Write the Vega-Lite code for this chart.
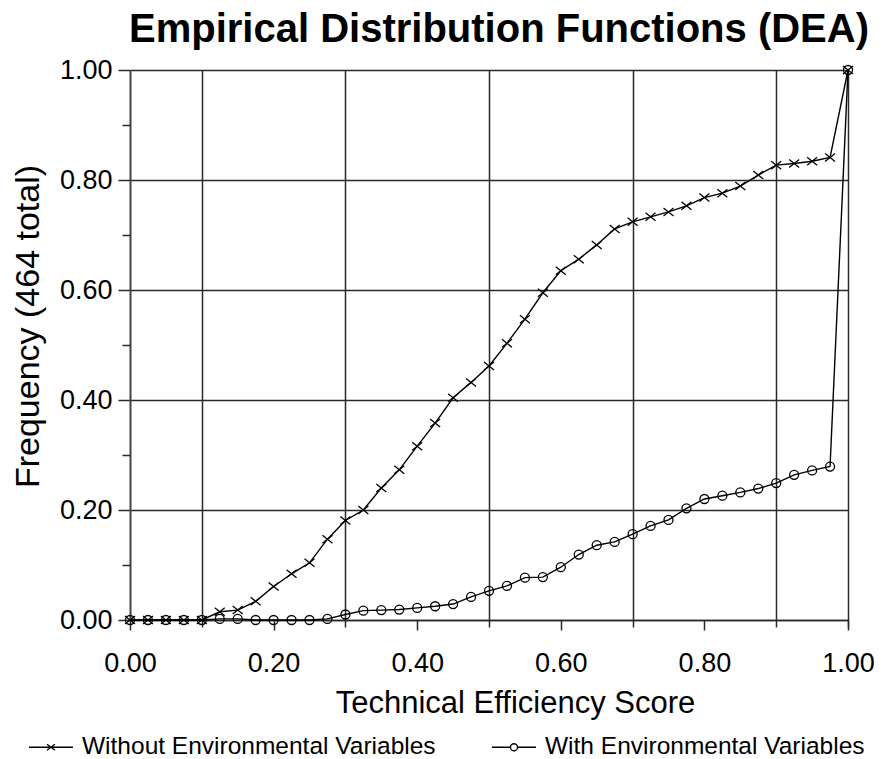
{
  "$schema": "https://vega.github.io/schema/vega-lite/v6.json",
  "width": 718,
  "height": 550,
  "autosize": "none",
  "padding": {"left": 130, "top": 70, "right": 36, "bottom": 139},
  "background": "white",
  "config": {
    "view": {"stroke": null},
    "font": "Liberation Sans",
    "axis": {"labelFont": "Liberation Sans", "titleFont": "Liberation Sans", "labelColor": "black", "titleColor": "black", "titleFontWeight": "normal", "labelFlush": false}
  },
  "title": {
    "text": "Empirical Distribution Functions (DEA)",
    "font": "Liberation Sans",
    "fontSize": 40,
    "fontWeight": "bold",
    "color": "black",
    "anchor": "middle",
    "frame": "group",
    "dx": 10,
    "offset": 6
  },
  "data": {
    "values": [
      {"score": 0, "freq": 0, "series": "Without Environmental Variables"},
      {"score": 0.025, "freq": 0, "series": "Without Environmental Variables"},
      {"score": 0.05, "freq": 0, "series": "Without Environmental Variables"},
      {"score": 0.075, "freq": 0, "series": "Without Environmental Variables"},
      {"score": 0.1, "freq": 0, "series": "Without Environmental Variables"},
      {"score": 0.125, "freq": 0.015, "series": "Without Environmental Variables"},
      {"score": 0.15, "freq": 0.018, "series": "Without Environmental Variables"},
      {"score": 0.175, "freq": 0.034, "series": "Without Environmental Variables"},
      {"score": 0.2, "freq": 0.061, "series": "Without Environmental Variables"},
      {"score": 0.225, "freq": 0.084, "series": "Without Environmental Variables"},
      {"score": 0.25, "freq": 0.104, "series": "Without Environmental Variables"},
      {"score": 0.275, "freq": 0.147, "series": "Without Environmental Variables"},
      {"score": 0.3, "freq": 0.181, "series": "Without Environmental Variables"},
      {"score": 0.325, "freq": 0.2, "series": "Without Environmental Variables"},
      {"score": 0.35, "freq": 0.24, "series": "Without Environmental Variables"},
      {"score": 0.375, "freq": 0.273, "series": "Without Environmental Variables"},
      {"score": 0.4, "freq": 0.316, "series": "Without Environmental Variables"},
      {"score": 0.425, "freq": 0.358, "series": "Without Environmental Variables"},
      {"score": 0.45, "freq": 0.404, "series": "Without Environmental Variables"},
      {"score": 0.475, "freq": 0.432, "series": "Without Environmental Variables"},
      {"score": 0.5, "freq": 0.462, "series": "Without Environmental Variables"},
      {"score": 0.525, "freq": 0.503, "series": "Without Environmental Variables"},
      {"score": 0.55, "freq": 0.547, "series": "Without Environmental Variables"},
      {"score": 0.575, "freq": 0.595, "series": "Without Environmental Variables"},
      {"score": 0.6, "freq": 0.635, "series": "Without Environmental Variables"},
      {"score": 0.625, "freq": 0.656, "series": "Without Environmental Variables"},
      {"score": 0.65, "freq": 0.682, "series": "Without Environmental Variables"},
      {"score": 0.675, "freq": 0.711, "series": "Without Environmental Variables"},
      {"score": 0.7, "freq": 0.724, "series": "Without Environmental Variables"},
      {"score": 0.725, "freq": 0.733, "series": "Without Environmental Variables"},
      {"score": 0.75, "freq": 0.742, "series": "Without Environmental Variables"},
      {"score": 0.775, "freq": 0.753, "series": "Without Environmental Variables"},
      {"score": 0.8, "freq": 0.768, "series": "Without Environmental Variables"},
      {"score": 0.825, "freq": 0.776, "series": "Without Environmental Variables"},
      {"score": 0.85, "freq": 0.789, "series": "Without Environmental Variables"},
      {"score": 0.875, "freq": 0.809, "series": "Without Environmental Variables"},
      {"score": 0.9, "freq": 0.827, "series": "Without Environmental Variables"},
      {"score": 0.925, "freq": 0.83, "series": "Without Environmental Variables"},
      {"score": 0.95, "freq": 0.834, "series": "Without Environmental Variables"},
      {"score": 0.975, "freq": 0.841, "series": "Without Environmental Variables"},
      {"score": 1, "freq": 1, "series": "Without Environmental Variables"},
      {"score": 0, "freq": 0, "series": "With Environmental Variables"},
      {"score": 0.025, "freq": 0, "series": "With Environmental Variables"},
      {"score": 0.05, "freq": 0, "series": "With Environmental Variables"},
      {"score": 0.075, "freq": 0, "series": "With Environmental Variables"},
      {"score": 0.1, "freq": 0, "series": "With Environmental Variables"},
      {"score": 0.125, "freq": 0.002, "series": "With Environmental Variables"},
      {"score": 0.15, "freq": 0.002, "series": "With Environmental Variables"},
      {"score": 0.175, "freq": 0, "series": "With Environmental Variables"},
      {"score": 0.2, "freq": 0, "series": "With Environmental Variables"},
      {"score": 0.225, "freq": 0, "series": "With Environmental Variables"},
      {"score": 0.25, "freq": 0, "series": "With Environmental Variables"},
      {"score": 0.275, "freq": 0.002, "series": "With Environmental Variables"},
      {"score": 0.3, "freq": 0.01, "series": "With Environmental Variables"},
      {"score": 0.325, "freq": 0.017, "series": "With Environmental Variables"},
      {"score": 0.35, "freq": 0.018, "series": "With Environmental Variables"},
      {"score": 0.375, "freq": 0.019, "series": "With Environmental Variables"},
      {"score": 0.4, "freq": 0.022, "series": "With Environmental Variables"},
      {"score": 0.425, "freq": 0.025, "series": "With Environmental Variables"},
      {"score": 0.45, "freq": 0.029, "series": "With Environmental Variables"},
      {"score": 0.475, "freq": 0.042, "series": "With Environmental Variables"},
      {"score": 0.5, "freq": 0.053, "series": "With Environmental Variables"},
      {"score": 0.525, "freq": 0.062, "series": "With Environmental Variables"},
      {"score": 0.55, "freq": 0.077, "series": "With Environmental Variables"},
      {"score": 0.575, "freq": 0.078, "series": "With Environmental Variables"},
      {"score": 0.6, "freq": 0.096, "series": "With Environmental Variables"},
      {"score": 0.625, "freq": 0.119, "series": "With Environmental Variables"},
      {"score": 0.65, "freq": 0.136, "series": "With Environmental Variables"},
      {"score": 0.675, "freq": 0.142, "series": "With Environmental Variables"},
      {"score": 0.7, "freq": 0.156, "series": "With Environmental Variables"},
      {"score": 0.725, "freq": 0.171, "series": "With Environmental Variables"},
      {"score": 0.75, "freq": 0.182, "series": "With Environmental Variables"},
      {"score": 0.775, "freq": 0.203, "series": "With Environmental Variables"},
      {"score": 0.8, "freq": 0.22, "series": "With Environmental Variables"},
      {"score": 0.825, "freq": 0.226, "series": "With Environmental Variables"},
      {"score": 0.85, "freq": 0.232, "series": "With Environmental Variables"},
      {"score": 0.875, "freq": 0.239, "series": "With Environmental Variables"},
      {"score": 0.9, "freq": 0.249, "series": "With Environmental Variables"},
      {"score": 0.925, "freq": 0.264, "series": "With Environmental Variables"},
      {"score": 0.95, "freq": 0.272, "series": "With Environmental Variables"},
      {"score": 0.975, "freq": 0.279, "series": "With Environmental Variables"},
      {"score": 1, "freq": 1, "series": "With Environmental Variables"}
    ]
  },
  "layer": [
    {
      "transform": [{"filter": "datum.series === 'Without Environmental Variables'"}],
      "mark": {"type": "line", "color": "black", "strokeWidth": 1.4},
      "encoding": {
        "x": {
          "field": "score", "type": "quantitative",
          "scale": {"domain": [0, 1], "nice": false, "zero": false},
          "axis": {
            "orient": "bottom", "values": [0.1, 0.3, 0.5, 0.7, 0.9, 1.0],
            "grid": true, "gridColor": "#2a2a2a", "gridWidth": 1.5, "gridOpacity": 1,
            "ticks": true, "tickSize": 7, "tickColor": "#2a2a2a", "tickWidth": 1.5,
            "labels": false, "domain": false, "title": null
          }
        },
        "y": {
          "field": "freq", "type": "quantitative",
          "scale": {"domain": [0, 1], "nice": false, "zero": false},
          "axis": {
            "orient": "left", "values": [0, 0.2, 0.4, 0.6, 0.8, 1.0], "format": ".2f",
            "grid": true, "gridColor": "#2a2a2a", "gridWidth": 1.5, "gridOpacity": 1,
            "tickSize": 12, "tickColor": "#2a2a2a", "tickWidth": 1.5,
            "domain": true, "domainColor": "#444", "domainWidth": 2,
            "labelFontSize": 27, "labelPadding": 6,
            "title": "Frequency (464 total)", "titleFontSize": 34,
            "titleX": -102, "titleY": 256, "titleBaseline": "middle", "titleAngle": -90, "titleAlign": "center"
          }
        }
      }
    },
    {
      "transform": [{"filter": "datum.series === 'With Environmental Variables'"}],
      "mark": {"type": "line", "color": "black", "strokeWidth": 1.4},
      "encoding": {
        "x": {
          "field": "score", "type": "quantitative",
          "scale": {"domain": [0, 1], "nice": false, "zero": false},
          "axis": {
            "orient": "bottom", "values": [0, 0.2, 0.4, 0.6, 0.8, 1.0], "format": ".2f",
            "grid": false, "ticks": true, "tickSize": 10, "tickColor": "#2a2a2a", "tickWidth": 1.5,
            "domain": true, "domainColor": "#2a2a2a", "domainWidth": 1.5,
            "labelFontSize": 27, "labelPadding": 20, "labelBaseline": "top",
            "title": "Technical Efficiency Score", "titleFontSize": 31,
            "titleX": 385, "titleY": 92, "titleBaseline": "alphabetic", "titleAlign": "center",
            "encode": {"ticks": {"y": {"value": -11}}}
          }
        },
        "y": {
          "field": "freq", "type": "quantitative",
          "scale": {"domain": [0, 1], "nice": false, "zero": false},
          "axis": {
            "orient": "left", "values": [0.1, 0.3, 0.5, 0.7, 0.9],
            "grid": false, "labels": false, "domain": false, "title": null,
            "tickSize": 8, "tickColor": "#2a2a2a", "tickWidth": 1.5,
            "encode": {"ticks": {"x": {"value": 8}}}
          }
        }
      }
    },
    {
      "mark": {"type": "point", "filled": false, "color": "black", "strokeWidth": 1.3, "opacity": 1, "size": 100},
      "encoding": {
        "x": {
          "field": "score", "type": "quantitative",
          "scale": {"domain": [0, 1], "nice": false, "zero": false},
          "axis": null
        },
        "y": {
          "field": "freq", "type": "quantitative",
          "scale": {"domain": [0, 1], "nice": false, "zero": false},
          "axis": null
        },
        "shape": {
          "field": "series", "type": "nominal",
          "scale": {
            "domain": ["Without Environmental Variables", "With Environmental Variables"],
            "range": ["M-1,-0.8L1,0.8M-1,0.8L1,-0.8", "M-0.9,0A0.9,0.9 0 1,1 0.9,0A0.9,0.9 0 1,1 -0.9,0Z"]
          },
          "legend": null
        }
      }
    },
    {
      "mark": {"type": "point", "filled": false, "color": "black", "strokeWidth": 1.3, "opacity": 1, "size": 0},
      "encoding": {
        "x": {
          "field": "score", "type": "quantitative",
          "scale": {"domain": [0, 1], "nice": false, "zero": false},
          "axis": null
        },
        "y": {
          "field": "freq", "type": "quantitative",
          "scale": {"domain": [0, 1], "nice": false, "zero": false},
          "axis": null
        },
        "shape": {
          "field": "series", "type": "nominal",
          "scale": {
            "domain": ["Without Environmental Variables", "With Environmental Variables"],
            "range": [
              "M-1,0L1,0M-0.18,-0.14L0.18,0.14M-0.18,0.14L0.18,-0.14",
              "M-1,0L-0.16,0M0.16,0L1,0M-0.16,0A0.16,0.16 0 1,1 0.16,0A0.16,0.16 0 1,1 -0.16,0"
            ]
          },
          "legend": {
            "title": null,
            "orient": "none",
            "legendX": -102,
            "legendY": 654,
            "direction": "horizontal",
            "columns": 2,
            "symbolSize": 1936,
            "symbolStrokeWidth": 1.3,
            "symbolStrokeColor": "black",
            "symbolFillColor": "transparent",
            "labelFont": "Liberation Sans",
            "labelFontSize": 24.5,
            "labelColor": "black",
            "labelOffset": 8,
            "labelLimit": 600,
            "columnPadding": 53
          }
        }
      }
    }
  ],
  "resolve": {"axis": {"x": "independent", "y": "independent"}, "scale": {"shape": "independent"}}
}
